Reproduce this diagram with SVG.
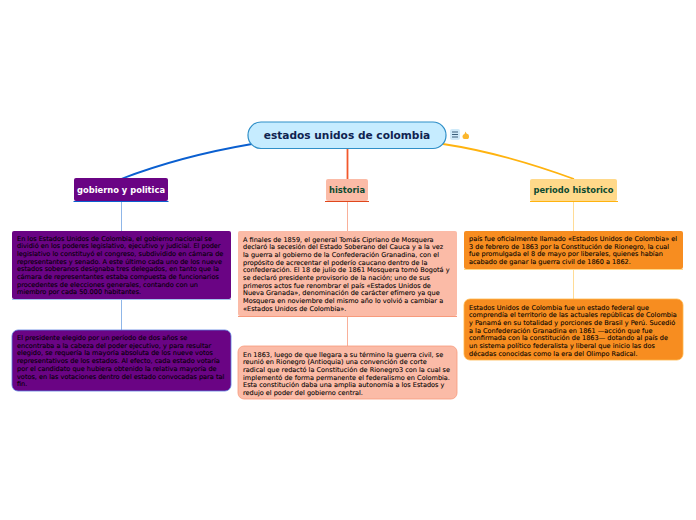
<svg xmlns="http://www.w3.org/2000/svg" width="696" height="520" viewBox="0 0 696 520">
<style>
text{font-family:"DejaVu Sans",Verdana,sans-serif}
.b{font-size:6.55px;fill:#000;stroke:#000;stroke-width:.08px}
.p{font-size:6.55px;fill:#000;stroke:#000;stroke-width:.08px}
.h{font-size:8.35px;font-weight:700;text-anchor:middle}
.c{fill:none}
</style>
<rect width="696" height="520" fill="#ffffff"/>
<g id="connectors" class="c">
<path d="M252 144C205 152 160 164 121 179" stroke="#0a5fd0" stroke-width="1.8" fill="none"/>
<path d="M347.500 148V179" stroke="#f2582c" stroke-width="1.8" fill="none"/>
<path d="M443 144C490 151 530 163 574 179" stroke="#ffb30f" stroke-width="1.8" fill="none"/>
<path d="M121.500 202V231M121.500 299V330" stroke="#8fb6e8" stroke-width="1" fill="none"/>
<path d="M347.500 202V231M347.500 316V346" stroke="#f9b09a" stroke-width="1" fill="none"/>
<path d="M573.500 202V231M573.500 269V299" stroke="#ffdc96" stroke-width="1" fill="none"/>
</g>
<g id="root">
<rect x="248" y="122" width="198" height="26.500" rx="13" fill="#c6ecff" stroke="#2f8fc8" stroke-width="1.200"/>
<text x="347" y="139" text-anchor="middle" font-size="10.600" font-weight="700" fill="#0f2350">estados unidos de colombia</text>
</g>
<g id="root-icons">
<rect x="450" y="129" width="10" height="11" rx="2" fill="#cfeaf9"/>
<path d="M452 132H458M452 134.500H458M452 137H458" stroke="#3a5f7a" stroke-width="1" fill="none"/>
<path d="M463 138.500C461.800 136 463 134.500 464.500 134L465.500 131.500L466.500 133.500L468.500 134.500C469.500 136.500 469 138 468 139H464.500Z" fill="#fbb62c"/>
</g>
<g id="gobierno">
<rect x="74" y="178" width="94" height="23" rx="2" fill="#6a0484"/>
<path d="M73.500 201.500H168.500" stroke="#0a5fd0" stroke-width="1"/>
<text class="h" x="121" y="193" fill="#ffffff">gobierno y politica</text>
</g>
<g id="historia">
<rect x="326" y="179" width="42" height="22" rx="2" fill="#fbbba7"/>
<path d="M325 201.500H369" stroke="#e0471c" stroke-width="1"/>
<text class="h" x="347" y="193" fill="#0c4a30">historia</text>
</g>
<g id="periodo">
<rect x="530" y="179" width="87" height="22" rx="2" fill="#ffd98a"/>
<path d="M530 201.500H618" stroke="#ffb30f" stroke-width="1"/>
<text class="h" x="573.500" y="193" fill="#0c4a30">periodo historico</text>
</g>
<g id="gobierno-1">
<rect x="12" y="231" width="219" height="68" rx="2" fill="#6a0484"/>
<path d="M12 299.500H231" stroke="#a6c6ee" stroke-width="1"/>
<text class="p"><tspan x="17" y="240.500">En los Estados Unidos de Colombia, el gobierno nacional se</tspan><tspan x="17" y="248.200">dividió en los poderes legislativo, ejecutivo y judicial. El poder</tspan><tspan x="17" y="255.900">legislativo lo constituyó el congreso, subdividido en cámara de</tspan><tspan x="17" y="263.600">representantes y senado. A este último cada uno de los nueve</tspan><tspan x="17" y="271.300">estados soberanos designaba tres delegados, en tanto que la</tspan><tspan x="17" y="279">cámara de representantes estaba compuesta de funcionarios</tspan><tspan x="17" y="286.700">procedentes de elecciones generales, contando con un</tspan><tspan x="17" y="294.400">miembro por cada 50.000 habitantes.</tspan></text>
</g>
<g id="gobierno-2">
<rect x="12" y="330" width="219" height="61" rx="6" fill="#6a0484" stroke="#5b7fe0" stroke-width="0.800"/>
<text class="p"><tspan x="17" y="340">El presidente elegido por un período de dos años se</tspan><tspan x="17" y="347.700">encontraba a la cabeza del poder ejecutivo, y para resultar</tspan><tspan x="17" y="355.400">elegido, se requería la mayoría absoluta de los nueve votos</tspan><tspan x="17" y="363.100">representativos de los estados. Al efecto, cada estado votaría</tspan><tspan x="17" y="370.800">por el candidato que hubiera obtenido la relativa mayoría de</tspan><tspan x="17" y="378.500">votos, en las votaciones dentro del estado convocadas para tal</tspan><tspan x="17" y="386.200">fin.</tspan></text>
</g>
<g id="historia-1">
<rect x="238" y="231" width="219" height="85" rx="2" fill="#fbbba7"/>
<path d="M238 316.500H457" stroke="#f79a7c" stroke-width="1"/>
<text class="b"><tspan x="243" y="241.500">A finales de 1859, el general Tomás Cipriano de Mosquera</tspan><tspan x="243" y="249.200">declaró la secesión del Estado Soberano del Cauca y a la vez</tspan><tspan x="243" y="256.900">la guerra al gobierno de la Confederación Granadina, con el</tspan><tspan x="243" y="264.600">propósito de acrecentar el poderío caucano dentro de la</tspan><tspan x="243" y="272.300">confederación. El 18 de julio de 1861 Mosquera tomó Bogotá y</tspan><tspan x="243" y="280">se declaró presidente provisorio de la nación; uno de sus</tspan><tspan x="243" y="287.700">primeros actos fue renombrar el país «Estados Unidos de</tspan><tspan x="243" y="295.400">Nueva Granada», denominación de carácter efímero ya que</tspan><tspan x="243" y="303.100">Mosquera en noviembre del mismo año lo volvió a cambiar a</tspan><tspan x="243" y="310.800">«Estados Unidos de Colombia».</tspan></text>
</g>
<g id="historia-2">
<rect x="238" y="346" width="219" height="53" rx="6" fill="#fbbba7" stroke="#f79a7c" stroke-width="0.800"/>
<text class="b"><tspan x="243" y="356.500">En 1863, luego de que llegara a su término la guerra civil, se</tspan><tspan x="243" y="364.200">reunió en Rionegro (Antioquia) una convención de corte</tspan><tspan x="243" y="371.900">radical que redactó la Constitución de Rionegro3 con la cual se</tspan><tspan x="243" y="379.600">implementó de forma permanente el federalismo en Colombia.</tspan><tspan x="243" y="387.300">Esta constitución daba una amplia autonomía a los Estados y</tspan><tspan x="243" y="395">redujo el poder del gobierno central.</tspan></text>
</g>
<g id="periodo-1">
<rect x="464" y="231" width="219" height="38" rx="2" fill="#f78d20"/>
<path d="M464 269.500H683" stroke="#ffd98a" stroke-width="1"/>
<text class="b"><tspan x="469" y="241">país fue oficialmente llamado «Estados Unidos de Colombia» el</tspan><tspan x="469" y="248.700">3 de febrero de 1863 por la Constitución de Rionegro, la cual</tspan><tspan x="469" y="256.400">fue promulgada el 8 de mayo por liberales, quienes habían</tspan><tspan x="469" y="264.100">acabado de ganar la guerra civil de 1860 a 1862.</tspan></text>
</g>
<g id="periodo-2">
<rect x="464" y="299" width="219" height="61" rx="6" fill="#f78d20" stroke="#ffb84d" stroke-width="0.800"/>
<text class="b"><tspan x="469" y="309.500">Estados Unidos de Colombia fue un estado federal que</tspan><tspan x="469" y="317.200">comprendía el territorio de las actuales repúblicas de Colombia</tspan><tspan x="469" y="324.900">y Panamá en su totalidad y porciones de Brasil y Perú. Sucedió</tspan><tspan x="469" y="332.600">a la Confederación Granadina en 1861 —acción que fue</tspan><tspan x="469" y="340.300">confirmada con la constitución de 1863— dotando al país de</tspan><tspan x="469" y="348">un sistema político federalista y liberal que inicio las dos</tspan><tspan x="469" y="355.700">décadas conocidas como la era del Olimpo Radical.</tspan></text>
</g>
</svg>
